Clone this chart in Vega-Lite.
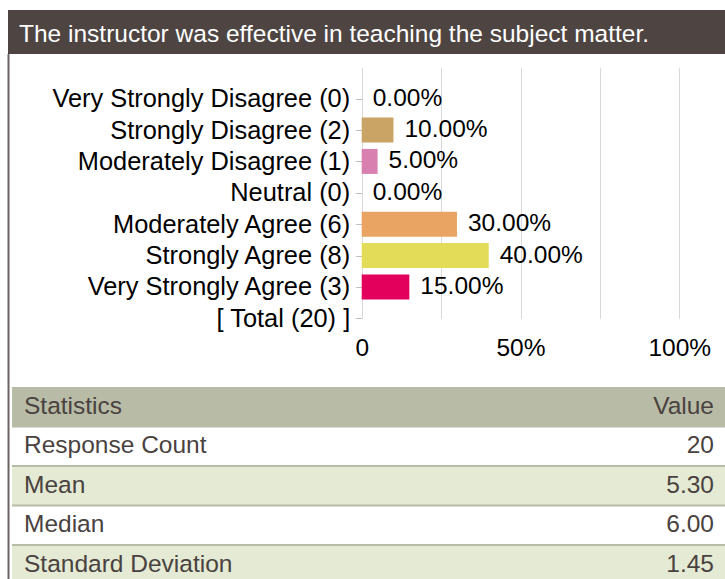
{
  "$schema": "https://vega.github.io/schema/vega-lite/v6.json",
  "padding": {"left": 7, "top": 10, "right": 0, "bottom": 0},
  "background": "white",
  "spacing": 0,
  "bounds": "flush",
  "resolve": {"scale": {"color": "independent", "y": "independent", "x": "independent"}},
  "config": {
    "font": "Liberation Sans",
    "view": {"stroke": null},
    "axis": {"labelFont": "Liberation Sans"},
    "text": {"font": "Liberation Sans"}
  },
  "vconcat": [
    {
      "width": 718,
      "height": 44,
      "view": {"fill": "#4e4543", "stroke": null},
      "data": {"values": [{"question": "The instructor was effective in teaching the subject matter."}]},
      "mark": {"type": "text", "align": "left", "baseline": "middle", "fontSize": 24.5, "color": "#ffffff"},
      "encoding": {
        "text": {"field": "question", "type": "nominal"},
        "x": {"value": 11},
        "y": {"value": 25}
      }
    },
    {
      "width": 718,
      "height": 333,
      "data": {"values": [
        {"answer": "Very Strongly Disagree (0)", "percent": 0.0},
        {"answer": "Strongly Disagree (2)", "percent": 0.10},
        {"answer": "Moderately Disagree (1)", "percent": 0.05},
        {"answer": "Neutral (0)", "percent": 0.0},
        {"answer": "Moderately Agree (6)", "percent": 0.30},
        {"answer": "Strongly Agree (8)", "percent": 0.40},
        {"answer": "Very Strongly Agree (3)", "percent": 0.15}
      ]},
      "layer": [
        {
          "data": {"values": [{"edge": "left"}]},
          "mark": {"type": "rule", "color": "#6b6361", "strokeWidth": 2},
          "encoding": {"x": {"value": 0.5}, "y": {"value": 0}, "y2": {"value": "height"}}
        },
        {
          "mark": {"type": "bar", "height": 25},
          "encoding": {
            "y": {
              "field": "answer", "type": "nominal", "sort": null,
              "scale": {
                "type": "point",
                "domain": ["", "Very Strongly Disagree (0)", "Strongly Disagree (2)", "Moderately Disagree (1)", "Neutral (0)", "Moderately Agree (6)", "Strongly Agree (8)", "Very Strongly Agree (3)", "[ Total (20) ]"],
                "range": [13.3, 264.3],
                "padding": 0
              },
              "axis": {
                "values": ["Very Strongly Disagree (0)", "Strongly Disagree (2)", "Moderately Disagree (1)", "Neutral (0)", "Moderately Agree (6)", "Strongly Agree (8)", "Very Strongly Agree (3)", "[ Total (20) ]"],
                "title": null, "domain": false, "grid": false,
                "ticks": true, "tickSize": 6, "tickColor": "#bdbdbd",
                "labelPadding": 6, "labelFontSize": 25.4, "labelColor": "#000000",
                "labelLimit": 500,
                "offset": -353.7
              }
            },
            "x": {
              "field": "percent", "type": "quantitative",
              "scale": {"domain": [0, 1], "range": [353.7, 671.3], "nice": false, "zero": false},
              "axis": {
                "orient": "top",
                "values": [0, 0.25, 0.5, 0.75, 1],
                "labelExpr": "datum.value == 0 ? '0' : (datum.value == 0.5 ? '50%' : (datum.value == 1 ? '100%' : ''))",
                "title": null, "grid": true, "gridColor": "#d9d9d9", "gridWidth": 1,
                "ticks": false, "domain": false, "labelPadding": 0,
                "labelFontSize": 24.5, "labelColor": "#000000",
                "labelFlush": false, "labelOverlap": false,
                "offset": -306.8
              }
            },
            "color": {
              "field": "answer", "type": "nominal", "legend": null,
              "scale": {
                "domain": ["Very Strongly Disagree (0)", "Strongly Disagree (2)", "Moderately Disagree (1)", "Neutral (0)", "Moderately Agree (6)", "Strongly Agree (8)", "Very Strongly Agree (3)"],
                "range": ["#9c7a4a", "#c9a464", "#d881b0", "#b0b0b0", "#e9a463", "#e2dc59", "#e3005d"]
              }
            }
          }
        },
        {
          "mark": {"type": "text", "align": "left", "baseline": "middle", "dx": 11, "fontSize": 24.5, "color": "#000000"},
          "encoding": {
            "y": {"field": "answer", "type": "nominal", "sort": null},
            "x": {"field": "percent", "type": "quantitative"},
            "text": {"field": "percent", "type": "quantitative", "format": ".2%"}
          }
        }
      ]
    },
    {
      "width": 718,
      "height": 192,
      "data": {"values": [
        {"stat": "Statistics", "value": "Value"},
        {"stat": "Response Count", "value": "20"},
        {"stat": "Mean", "value": "5.30"},
        {"stat": "Median", "value": "6.00"},
        {"stat": "Standard Deviation", "value": "1.45"}
      ]},
      "encoding": {
        "y": {
          "field": "stat", "type": "nominal", "sort": null,
          "scale": {"type": "band", "domain": ["Statistics", "Response Count", "Mean", "Median", "Standard Deviation"], "range": [0, 197.5], "paddingInner": 0, "paddingOuter": 0},
          "axis": null
        }
      },
      "layer": [
        {
          "mark": {"type": "rect", "clip": true},
          "encoding": {
            "x": {"value": 4},
            "x2": {"value": "width"},
            "color": {
              "field": "stat", "type": "nominal", "legend": null,
              "scale": {
                "domain": ["Statistics", "Response Count", "Mean", "Median", "Standard Deviation"],
                "range": ["#b8bba6", "#ffffff", "#e4ead3", "#ffffff", "#e4ead3"]
              }
            }
          }
        },
        {
          "transform": [{"filter": "datum.stat != 'Statistics'"}],
          "mark": {"type": "rule", "color": "#b8bba6", "strokeWidth": 2, "clip": true},
          "encoding": {
            "y": {"field": "stat", "type": "nominal", "sort": null, "bandPosition": 0},
            "x": {"value": 4},
            "x2": {"value": "width"}
          }
        },
        {
          "mark": {"type": "text", "align": "left", "baseline": "middle", "fontSize": 24.5, "color": "#4a4240", "clip": true},
          "encoding": {
            "text": {"field": "stat", "type": "nominal"},
            "x": {"value": 16}
          }
        },
        {
          "mark": {"type": "text", "align": "right", "baseline": "middle", "fontSize": 24.5, "color": "#4a4240", "clip": true},
          "encoding": {
            "text": {"field": "value", "type": "nominal"},
            "x": {"value": 706}
          }
        },
        {
          "data": {"values": [{"edge": "left"}]},
          "mark": {"type": "rule", "color": "#6b6361", "strokeWidth": 2},
          "encoding": {"x": {"value": 0.5}, "y": {"value": 0}, "y2": {"value": "height"}}
        }
      ]
    }
  ]
}
